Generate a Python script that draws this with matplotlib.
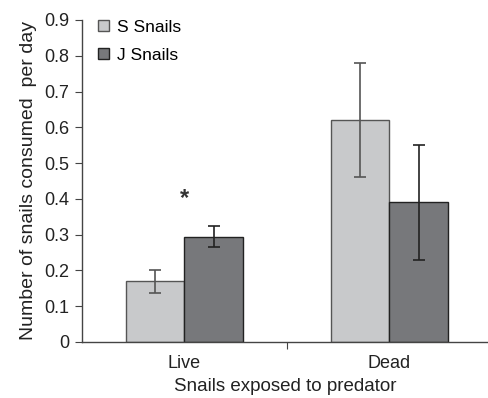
import numpy as np
import matplotlib.pyplot as plt

plt.rcParams['font.family'] = ['Liberation Sans', 'DejaVu Sans']

# data
categories = ['Live', 'Dead']
s_snails = [0.17, 0.62]
s_err = [0.032, 0.16]
j_snails = [0.294, 0.39]
j_err = [0.029, 0.161]

fig = plt.figure(figsize=(4.89, 3.98), dpi=100)
ax = fig.add_axes([82 / 489, 56 / 398, 407 / 489, 322 / 398])

x = np.arange(len(categories))
w = 0.283
ax.bar(x - w / 2, s_snails, w, color='#c8c9cb', edgecolor='#555555', linewidth=1.0,
       label='S Snails', zorder=2)
ax.bar(x + w / 2, j_snails, w, color='#77787b', edgecolor='#222222', linewidth=1.0,
       label='J Snails', zorder=2)
ax.errorbar(x - w / 2, s_snails, yerr=s_err, fmt='none', ecolor='#555555',
            elinewidth=1.2, capsize=4, capthick=1.2, zorder=3)
ax.errorbar(x + w / 2, j_snails, yerr=j_err, fmt='none', ecolor='#222222',
            elinewidth=1.2, capsize=4, capthick=1.2, zorder=3)

# significance mark
ax.text(x[0], 0.40, '*', ha='center', va='center', fontsize=17, fontweight='bold',
        color='#333333')

ax.set_xlim(-0.5, -0.5 + 407 / 205)
ax.set_ylim(0, 0.9)
ax.set_yticks(np.arange(0, 0.91, 0.1))
ax.set_yticklabels(['0'] + ['%.1f' % v for v in np.arange(0.1, 0.91, 0.1)])

# category labels without ticks, boundary tick at 0.5
ax.set_xticks([0.5])
ax.set_xticklabels([''])
ax.set_xticks(x, minor=True)
ax.set_xticklabels(categories, minor=True)
ax.tick_params(axis='x', which='minor', length=0, pad=9, labelsize=13, colors='#222222')
ax.tick_params(axis='x', which='major', length=5, color='#444444', direction='out')
ax.tick_params(axis='y', length=5, color='#444444', labelsize=13, labelcolor='#222222', pad=4)

for s in ['top', 'right']:
    ax.spines[s].set_visible(False)
for s in ['left', 'bottom']:
    ax.spines[s].set_color('#444444')
    ax.spines[s].set_linewidth(1.0)

ax.set_xlabel('Snails exposed to predator', fontsize=13.5, color='#222222', labelpad=5)
ax.set_ylabel('Number of snails consumed  per day', fontsize=14, color='#222222', labelpad=5)

ax.legend(loc='upper left', bbox_to_anchor=(0.0, 1.05), frameon=False, fontsize=12.5,
          handlelength=0.65, handleheight=0.65, handletextpad=0.45, labelspacing=0.75)

fig.savefig('out.png', dpi=100)
